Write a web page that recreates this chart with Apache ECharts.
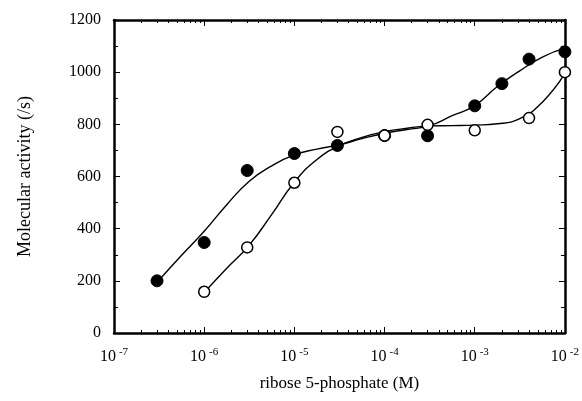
<!DOCTYPE html>
<html>
<head>
<meta charset="utf-8">
<script src="https://cdn.jsdelivr.net/npm/echarts@6/dist/echarts.min.js"></script>
<style>
html,body{margin:0;padding:0;background:#fff;}
#c{width:582px;height:401px;}
</style>
</head>
<body>
<div id="c"></div>
<script>
// Measured points (filled circles)
var filledX = [3e-7, 1e-6, 3e-6, 1e-5, 3e-5, 1e-4, 3e-4, 1e-3, 2e-3, 4e-3, 1e-2];
var filledY = [200, 347, 623, 688, 719, 757, 756, 871, 956, 1050, 1078];
// Measured points (open circles)
var openX = [1e-6, 3e-6, 1e-5, 3e-5, 1e-4, 3e-4, 1e-3, 4e-3, 1e-2];
var openY = [158, 328, 576, 771, 757, 798, 777, 824, 1000];
// Fitted curves, every quarter decade
var fitFilledX = [3.16e-7, 5.62e-7, 1e-6, 1.78e-6, 3.16e-6, 5.62e-6, 1e-5, 1.78e-5, 3.16e-5, 5.62e-5, 1e-4, 1.78e-4, 3.16e-4, 5.62e-4, 1e-3, 1.78e-3, 3.16e-3, 5.62e-3, 1e-2];
var fitFilledY = [203, 298, 390, 492, 582, 641, 683, 705, 722, 745, 766, 780, 795, 833, 872, 945, 1005, 1058, 1092];
var fitOpenX = [1e-6, 1.78e-6, 3.16e-6, 5.62e-6, 1e-5, 1.78e-5, 3.16e-5, 5.62e-5, 1e-4, 1.78e-4, 3.16e-4, 5.62e-4, 1e-3, 1.78e-3, 3.16e-3, 5.62e-3, 1e-2];
var fitOpenY = [155, 248, 337, 455, 578, 665, 718, 750, 772, 785, 794, 795, 797, 802, 822, 885, 995];
// Axis ticks
var xMin = 1e-7, xMax = 1e-2;
var xMinorTicks = [];
[1e-7, 1e-6, 1e-5, 1e-4, 1e-3].forEach(function (d) {
  [2, 3, 4, 5, 6, 7, 8, 9].forEach(function (m) { xMinorTicks.push(+(d * m).toPrecision(3)); });
});
var yMin = 0, yMax = 1200, yInterval = 200;

function pairs(xs, ys) { return xs.map(function (x, i) { return [x, ys[i]]; }); }

var FONT = '"Liberation Serif", "Times New Roman", serif';
var black = '#000';

function xAxisBase(pos, labels, minor) {
  return {
    type: 'log', logBase: 10, min: xMin, max: xMax, position: pos, gridIndex: 0,
    axisLine: { show: !minor, onZero: false, lineStyle: { color: black, width: 2.5 } },
    axisTick: minor ? { show: true, inside: true, length: 3, customValues: xMinorTicks, lineStyle: { color: black, width: 1 } }
                    : { show: true, inside: true, length: 6, lineStyle: { color: black, width: 1 } },
    minorTick: { show: false },
    splitLine: { show: false },
    axisLabel: labels ? {
      show: true, margin: 14, color: black, fontFamily: FONT, fontSize: 16,
      formatter: function (v) { var e = Math.round(Math.log10(v)); return '10{s|' + e + '}'; },
      rich: { s: { fontSize: 11, fontFamily: FONT, color: black, padding: [0, 0, 9, 3] } }
    } : { show: false }
  };
}

function yAxisBase(pos, labels) {
  return {
    type: 'value', min: yMin, max: yMax, interval: yInterval, position: pos,
    axisLine: { show: true, onZero: false, lineStyle: { color: black, width: 2.5 } },
    axisTick: { show: true, inside: true, length: 6, lineStyle: { color: black, width: 1 } },
    minorTick: { show: true, splitNumber: 2, length: 4, lineStyle: { color: black, width: 1 } },
    splitLine: { show: false },
    minorSplitLine: { show: false },
    axisLabel: labels ? { show: true, margin: 13, color: black, fontFamily: FONT, fontSize: 16,
      formatter: function (v) { return String(v); } } : { show: false }
  };
}

var xAxes = [xAxisBase('bottom', true, false), xAxisBase('bottom', false, true), xAxisBase('top', false, false), xAxisBase('top', false, true)];
xAxes[0].name = 'ribose 5-phosphate (M)';
xAxes[0].nameLocation = 'middle';
xAxes[0].nameGap = 42;
xAxes[0].nameTextStyle = { fontFamily: FONT, fontSize: 17, color: black };

var yAxes = [yAxisBase('left', true), yAxisBase('right', false)];
yAxes[0].name = 'Molecular activity (/s)';
yAxes[0].nameLocation = 'middle';
yAxes[0].nameGap = 80;
yAxes[0].nameTextStyle = { fontFamily: FONT, fontSize: 18, color: black };

var chart = echarts.init(document.getElementById('c'), null, { renderer: 'canvas' });
chart.setOption({
  animation: false,
  backgroundColor: '#fff',
  grid: { left: 114, right: 16, top: 20, bottom: 68, containLabel: false },
  xAxis: xAxes,
  yAxis: yAxes,
  series: [
    { type: 'line', xAxisIndex: 0, yAxisIndex: 0, data: pairs(fitFilledX, fitFilledY), smooth: 0.5,
      showSymbol: false, symbol: 'none', lineStyle: { color: black, width: 1.4 }, z: 2 },
    { type: 'line', xAxisIndex: 0, yAxisIndex: 0, data: pairs(fitOpenX, fitOpenY), smooth: 0.5,
      showSymbol: false, symbol: 'none', lineStyle: { color: black, width: 1.4 }, z: 2 },
    { type: 'scatter', xAxisIndex: 0, yAxisIndex: 0, data: pairs(filledX, filledY), symbol: 'circle', symbolSize: 12,
      itemStyle: { color: black, borderColor: black, borderWidth: 1, opacity: 1 }, z: 3 },
    { type: 'scatter', xAxisIndex: 0, yAxisIndex: 0, data: pairs(openX, openY), symbol: 'circle', symbolSize: 11,
      itemStyle: { color: '#fff', borderColor: black, borderWidth: 1.5, opacity: 1 }, z: 4 }
  ]
});
</script>
</body>
</html>
